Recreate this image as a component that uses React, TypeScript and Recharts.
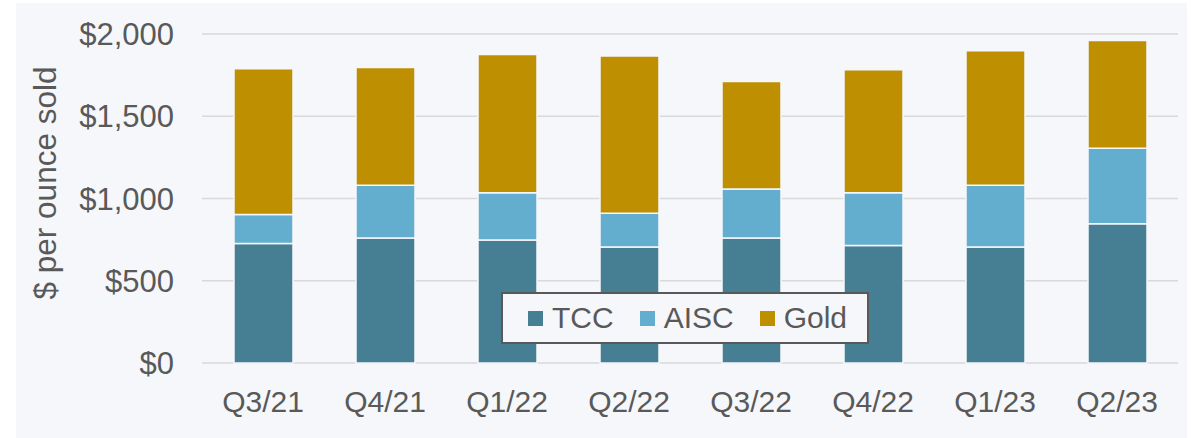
import { BarChart, Bar, XAxis, YAxis, CartesianGrid } from 'recharts';

const quarters = ['Q3/21', 'Q4/21', 'Q1/22', 'Q2/22', 'Q3/22', 'Q4/22', 'Q1/23', 'Q2/23'];
// cumulative levels per quarter ($/oz)
const tccValues = [727, 760, 747, 705, 760, 715, 705, 847];
const aiscValues = [902, 1080, 1035, 911, 1057, 1035, 1081, 1306];
const goldValues = [1789, 1797, 1875, 1867, 1711, 1782, 1898, 1960];
const yTicks = [0, 500, 1000, 1500, 2000];

const FONT = 'Arial, "Liberation Sans", sans-serif';
const TEXT = '#595959';
const BG = '#f5f7fb';

const series = [
  { key: 'tcc', name: 'TCC', color: '#467f94' },
  { key: 'aisc', name: 'AISC', color: '#63aecf' },
  { key: 'gold', name: 'Gold', color: '#be8f00' },
];

// stacked segments: TCC, then AISC on top of TCC, then gold price on top of AISC
const data = quarters.map((q, i) => ({
  quarter: q,
  tcc: tccValues[i],
  aisc: aiscValues[i] - tccValues[i],
  gold: goldValues[i] - aiscValues[i],
}));

const fmt = (v: number) => '$' + v.toLocaleString('en-US');

function LegendBox() {
  return (
    <div
      style={{
        position: 'absolute',
        left: 501,
        top: 292,
        boxSizing: 'border-box',
        width: 368,
        height: 52,
        border: '2px solid #595959',
        background: BG,
        display: 'flex',
        alignItems: 'center',
        paddingLeft: 25,
        fontFamily: FONT,
        fontSize: 30,
        color: TEXT,
      }}
    >
      {series.map((s, i) => (
        <div
          key={s.key}
          style={{ display: 'flex', alignItems: 'center', marginRight: i < series.length - 1 ? 26 : 0 }}
        >
          <span style={{ width: 15, height: 15, background: s.color, marginRight: 9 }} />
          <span style={{ lineHeight: '30px' }}>{s.name}</span>
        </div>
      ))}
    </div>
  );
}

export default function App() {
  return (
    <div style={{ position: 'absolute', left: 0, top: 0, width: 1191, height: 438, background: '#ffffff' }}>
      <div style={{ position: 'absolute', left: 16, top: 3, width: 1171, height: 435, background: BG }} />
      <div style={{ position: 'absolute', left: 0, top: 0 }}>
        <BarChart
          width={1191}
          height={438}
          data={data}
          margin={{ top: 34, right: 13, bottom: 45, left: 0 }}
          barSize={59}
        >
          <CartesianGrid vertical={false} stroke="#d9d9d9" strokeWidth={1.5} />
          <XAxis
            dataKey="quarter"
            axisLine={false}
            tickLine={false}
            tickMargin={22}
            tick={{ fontSize: 30, fill: TEXT, fontFamily: FONT }}
            interval={0}
          />
          <YAxis
            width={202}
            domain={[0, 2000]}
            ticks={yTicks}
            tickFormatter={fmt}
            axisLine={false}
            tickLine={false}
            tickMargin={22}
            tick={{ fontSize: 31, fill: TEXT, fontFamily: FONT }}
            label={{
              content: () => (
                <text
                  x={45}
                  y={183}
                  transform="rotate(-90 45 183)"
                  textAnchor="middle"
                  dominantBaseline="central"
                  fontSize={31.5}
                  fill={TEXT}
                  fontFamily={FONT}
                >
                  $ per ounce sold
                </text>
              ),
            }}
          />
          {series.map((s) => (
            <Bar
              key={s.key}
              dataKey={s.key}
              name={s.name}
              stackId="a"
              fill={s.color}
              stroke={BG}
              strokeWidth={1.5}
              isAnimationActive={false}
            />
          ))}
        </BarChart>
      </div>
      <LegendBox />
    </div>
  );
}
